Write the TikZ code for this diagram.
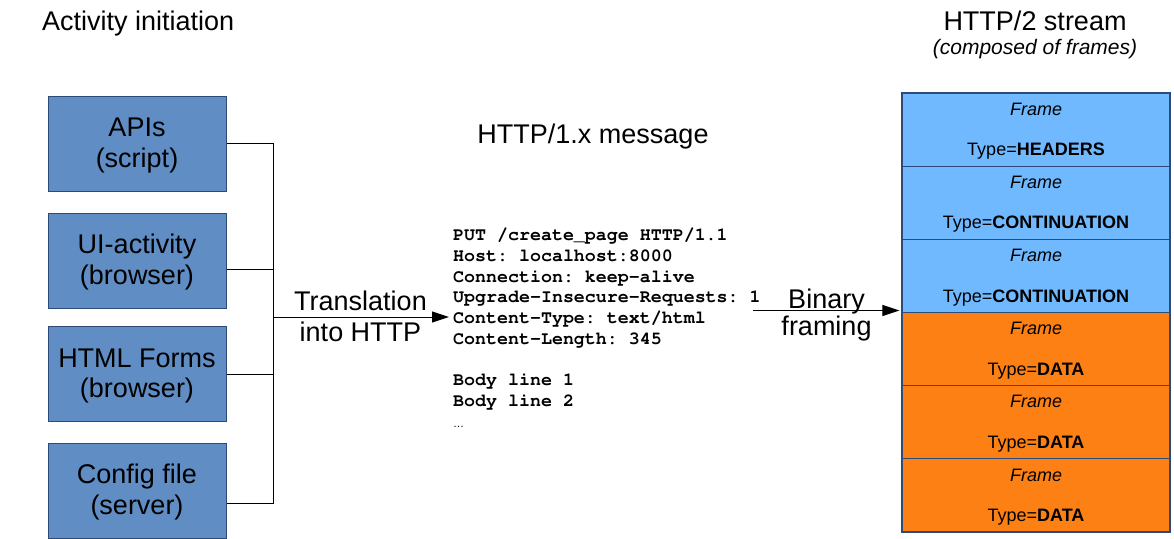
\documentclass[tikz,border=0pt]{standalone}
\usepackage[T1]{fontenc}
\usepackage{fontspec}
\setmainfont{Liberation Sans}
\usetikzlibrary{arrows.meta,calc}
\definecolor{srcfill}{HTML}{5F8DC4}
\definecolor{srcline}{HTML}{2B4A78}
\definecolor{hdrfill}{HTML}{70B9FF}
\definecolor{datafill}{HTML}{FD8014}
\definecolor{frameline}{HTML}{2E4A78}
\newcommand{\boxtop}{\rule{0pt}{22.5pt}}
\newcommand{\frametop}{\rule{0pt}{15.7pt}}
\begin{document}
\begin{tikzpicture}[x=1pt,y=-1pt,
  srcbox/.style={draw=srcline, line width=1pt, fill=srcfill, minimum width=178pt,
    minimum height=95pt, inner sep=0pt, align=center, font=\fontsize{27}{30.5}\selectfont},
  frame/.style={draw=frameline, line width=1.2pt, minimum width=268pt,
    minimum height=73.17pt, inner sep=0pt, align=center, font=\fontsize{18}{40.5}\selectfont},
  hdr/.style={frame, fill=hdrfill},
  dat/.style={frame, fill=datafill},
  bigtext/.style={inner sep=0pt, font=\fontsize{27}{31}\selectfont},
  subtext/.style={inner sep=0pt, font=\fontsize{21}{24}\selectfont\itshape},
  msgtext/.style={inner sep=0pt, font=\fontencoding{T1}\fontfamily{pcr}\fontseries{b}\fontsize{18.3}{20.75}\selectfont\frenchspacing},
  wire/.style={draw=black, line width=1pt},
  arrowline/.style={wire, -{Triangle[length=17pt,width=11pt]}}
]
\useasboundingbox (0,0) rectangle (1174,538);

% titles
\node[bigtext, anchor=base west] (tact) at (42,30) {Activity initiation};
\node[bigtext, anchor=base] (tstream) at (1035,30) {HTTP/2 stream};
\node[subtext, anchor=base] (tcomp) at (1035,54) {(composed of frames)};
\node[bigtext, anchor=base] (tmsg) at (593,143.3) {HTTP/1.x message};

% sources
\node[srcbox] (api) at (137,143.5) {\boxtop APIs\\(script)};
\node[srcbox] (ui)  at (137,260.5) {\boxtop UI-activity\\(browser)};
\node[srcbox] (frm) at (137,374)   {\boxtop HTML Forms\\(browser)};
\node[srcbox] (cfg) at (137,490.5) {\boxtop Config file\\(server)};

% bus
\coordinate (jn) at (273,317);
\coordinate (uiport) at ($(ui.east)+(0,8.5)$);
\coordinate (cfgport) at ($(cfg.east)+(0,12.5)$);
\draw[wire] (api.east) -| (jn);
\draw[wire] (uiport) -- (uiport -| jn);
\draw[wire] (frm.east) -- (frm.east -| jn);
\draw[wire] (cfgport) -| (jn);

% message
\node[msgtext, anchor=base west] (msg) at (453,240.5) {\begin{tabular}[t]{@{}l@{}}
PUT /create\_page HTTP/1.1\\
Host: localhost:8000\\
Connection: keep-alive\\
Upgrade-Insecure-Requests: 1\\
Content-Type: text/html\\
Content-Length: 345\\
\\
Body line 1\\
Body line 2\\
{\normalfont\fontsize{11}{11}\selectfont …}
\end{tabular}};

\draw[arrowline, shorten >=4pt] (jn) -- (jn -| msg.west);
\node[bigtext, anchor=base] (ttrans) at (360.5,310.7)
  {\begin{tabular}[t]{@{}c@{}}Translation\\into HTTP\end{tabular}};

% frames
\node[hdr] (f1) at (1036,129.58) {\frametop\textit{Frame}\\Type=\textbf{HEADERS}};
\node[hdr] (f2) at (1036,202.75) {\frametop\textit{Frame}\\Type=\textbf{CONTINUATION}};
\node[hdr] (f3) at (1036,275.92) {\frametop\textit{Frame}\\Type=\textbf{CONTINUATION}};
\node[dat] (f4) at (1036,349.08) {\frametop\textit{Frame}\\Type=\textbf{DATA}};
\node[dat] (f5) at (1036,422.25) {\frametop\textit{Frame}\\Type=\textbf{DATA}};
\node[dat] (f6) at (1036,495.42) {\frametop\textit{Frame}\\Type=\textbf{DATA}};

\coordinate (bst) at (753,310.5);
\draw[arrowline, shorten >=2pt] (bst) -- (bst -| f4.west);
\node[anchor=base, inner sep=0pt, font=\fontsize{27}{27}\selectfont] (tbin) at (826.5,308.3)
  {\begin{tabular}[t]{@{}c@{}}Binary\\framing\end{tabular}};
\end{tikzpicture}
\end{document}
